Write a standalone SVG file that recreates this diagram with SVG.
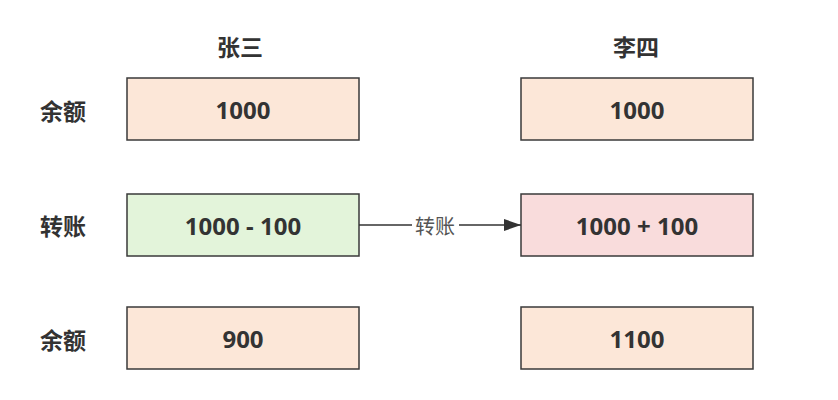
<svg xmlns="http://www.w3.org/2000/svg" width="838" height="400" viewBox="0 0 838 400">
<defs>
<style>
.box{stroke:#3a3a3a;stroke-width:1.5}
.peach{fill:#fce7d8}
.green{fill:#e3f4da}
.pink{fill:#f9dcdc}
.t{font-family:"Noto Sans","Noto Sans CJK SC",sans-serif;font-weight:bold;font-size:24px;fill:#333;text-anchor:middle;dominant-baseline:central}
.lbl{font-family:"Noto Sans CJK SC",sans-serif;font-weight:bold;font-size:23px;fill:#333;text-anchor:middle;dominant-baseline:central}
.edge{font-family:"Noto Sans CJK SC",sans-serif;font-size:20px;fill:#555;text-anchor:middle;dominant-baseline:central}
</style>
<marker id="arr" markerWidth="17" markerHeight="12" refX="17" refY="6" orient="auto" markerUnits="userSpaceOnUse">
<path d="M0,0 L17,6 L0,12 Z" fill="#333"/>
</marker>
</defs>
<rect width="838" height="400" fill="#fff"/>
<g id="headers">
<text class="lbl" x="240" y="46">张三</text>
<text class="lbl" x="636" y="46">李四</text>
</g>
<g id="rowlabels">
<text class="lbl" x="63" y="110">余额</text>
<text class="lbl" x="63" y="225">转账</text>
<text class="lbl" x="63" y="339">余额</text>
</g>
<g id="z1"><rect class="box peach" x="127" y="78" width="232" height="62"/><text class="t" x="243" y="109">1000</text></g>
<g id="l1"><rect class="box peach" x="521" y="78" width="232" height="62"/><text class="t" x="637" y="109">1000</text></g>
<g id="z2"><rect class="box green" x="127" y="194" width="232" height="62"/><text class="t" x="243" y="225">1000 - 100</text></g>
<g id="l2"><rect class="box pink" x="521" y="194" width="232" height="62"/><text class="t" x="637" y="225">1000 + 100</text></g>
<g id="z3"><rect class="box peach" x="127" y="307" width="232" height="62"/><text class="t" x="243" y="338">900</text></g>
<g id="l3"><rect class="box peach" x="521" y="307" width="232" height="62"/><text class="t" x="637" y="338">1100</text></g>
<g id="connectors">
<line x1="359" y1="225" x2="521" y2="225" stroke="#333" stroke-width="1.5" marker-end="url(#arr)"/>
<rect x="412" y="212" width="47" height="26" fill="#fff"/>
<text class="edge" x="435" y="225">转账</text>
</g>
</svg>
